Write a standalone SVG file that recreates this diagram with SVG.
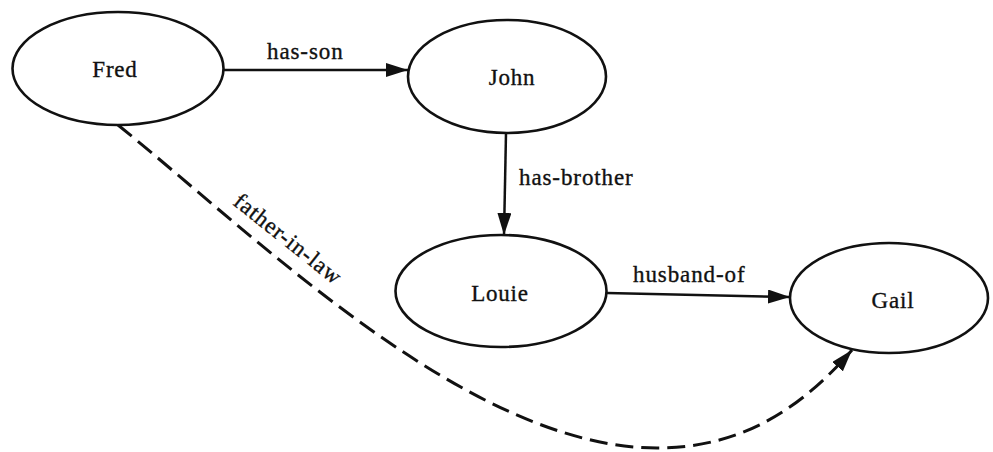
<svg xmlns="http://www.w3.org/2000/svg" width="993" height="452" viewBox="0 0 993 452">
  <style>
    .node ellipse { fill: #ffffff; stroke: #111111; stroke-width: 2.6; }
    .node text { font-family: "Liberation Serif", "DejaVu Serif", serif; font-size: 23px; fill: #111111; stroke: #111111; stroke-width: 0.35; text-anchor: middle; letter-spacing: 0.8px; }
    .edge { fill: none; stroke: #111111; stroke-width: 2.5; }
    .dashed { stroke-dasharray: 18 8; stroke-width: 3; }
    .label { font-family: "Liberation Serif", "DejaVu Serif", serif; font-size: 23px; fill: #111111; stroke: #111111; stroke-width: 0.35; letter-spacing: 0.9px; }
  </style>
  <defs>
    <marker id="arrow" markerUnits="userSpaceOnUse" markerWidth="24" markerHeight="16" refX="22" refY="7" orient="auto">
      <path d="M0,0 L22,7 L0,14 Z" fill="#111111"/>
    </marker>
  </defs>

  <rect width="993" height="452" fill="#ffffff"/>

  <g id="connectors">
    <path class="edge" d="M224,70 L408,70" marker-end="url(#arrow)"/>
    <text class="label" x="267" y="59">has-son</text>

    <path class="edge" d="M506,133 L504,235" marker-end="url(#arrow)"/>
    <text class="label" x="519" y="185">has-brother</text>

    <path class="edge" d="M607,293 L790,297" marker-end="url(#arrow)"/>
    <text class="label" x="633" y="282">husband-of</text>

    <path class="edge dashed" d="M118,125 C260,240 470,448 657,448 C740,448 800,410 852,350" marker-end="url(#arrow)"/>
    <text class="label" x="232" y="204" transform="rotate(38.5 232 204)">father-in-law</text>
  </g>

  <g id="node-fred" class="node">
    <ellipse cx="118" cy="68.5" rx="105.5" ry="56.5"/>
    <text x="115" y="77">Fred</text>
  </g>

  <g id="node-john" class="node">
    <ellipse cx="507" cy="76.5" rx="99" ry="56.5"/>
    <text x="512" y="85">John</text>
  </g>

  <g id="node-louie" class="node">
    <ellipse cx="501" cy="291" rx="105.5" ry="56"/>
    <text x="500" y="301">Louie</text>
  </g>

  <g id="node-gail" class="node">
    <ellipse cx="889" cy="298" rx="99" ry="55"/>
    <text x="893" y="308">Gail</text>
  </g>
</svg>
